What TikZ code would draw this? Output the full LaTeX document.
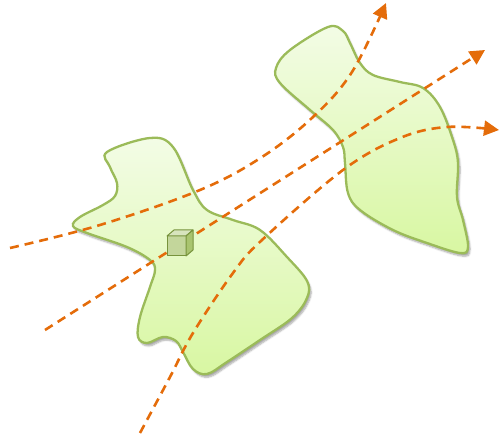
\documentclass[tikz,border=0pt]{standalone}
\usetikzlibrary{arrows.meta,shadows.blur}
\definecolor{blobedge}{HTML}{9BBB59}
\definecolor{blobtop}{HTML}{F3FCE6}
\definecolor{blobbot}{HTML}{D8F7A2}
\definecolor{ray}{HTML}{E46C0A}
\definecolor{cubefront}{HTML}{C3D69B}
\definecolor{cubetop}{HTML}{D7E4BD}
\definecolor{cubeside}{HTML}{A9C46F}
\definecolor{cubeedge}{HTML}{77933C}
\tikzset{
  blob/.style={draw=blobedge, line width=2.3pt, top color=blobtop, bottom color=blobbot,
    blur shadow={shadow xshift=2pt, shadow yshift=-3pt, shadow blur steps=6, shadow opacity=35}},
  raypath/.style={draw=ray, line width=2.6pt, dash pattern=on 9pt off 6pt},
  raytip/.style={-{Triangle[length=15pt,width=15pt]}},
  cubeface/.style={draw=cubeedge, line width=1pt, line join=round}
}
\begin{document}
\begin{tikzpicture}[x=1pt,y=-1pt]
\useasboundingbox (0,0) rectangle (499,441);
% left blob
\path[blob] plot[smooth cycle, tension=0.6] coordinates {
 (107,152) (150,138) (173,147) (193,190) (207,210) (233,220) (260,230)
 (287,257) (307,281) (307,298) (292,318) (260,340) (227,362) (207,374)
 (193,369) (183,352) (176,341) (163,337) (147,343) (138,337) (140,317)
 (150,287) (155,270) (150,260) (127,247) (87,233) (73,226) (80,217)
 (103,205) (115,196) (117,183) (110,167)};
% right blob
\path[blob] plot[smooth cycle, tension=0.6] coordinates {
 (328,27) (343,31) (350,43) (360,63) (373,75) (400,82) (423,88) (440,107)
 (453,140) (458,163) (457,197) (463,220) (468,247) (460,253) (427,243)
 (393,230) (360,210) (348,193) (345,163) (343,147) (333,130) (310,110)
 (280,83) (276,68) (290,50)};
% rays
\coordinate (a0) at (10,248);
\coordinate (a1) at (386,3);
\coordinate (b0) at (45,330);
\coordinate (b1) at (485,50);
\coordinate (c0) at (140,433);
\coordinate (c1) at (499,130);
\draw[raypath,raytip] plot[smooth, tension=0.6] coordinates {(a0) (100,225) (200,190) (262,157) (313,117) (352,72) (a1)};
\draw[raypath,raytip] (b0) -- (b1);
\draw[raypath,raytip] plot[smooth, tension=0.6] coordinates {(c0) (170,377) (193,333) (233,273) (262,240) (343,170) (400,138) (447,127) (c1)};
% cube
\coordinate (f1) at (167,236);
\coordinate (f2) at (186,236);
\coordinate (f3) at (186,256);
\coordinate (f4) at (167,256);
\coordinate (t1) at (174,230);
\coordinate (t2) at (193,230);
\coordinate (t3) at (193,250);
\path[cubeface, fill=cubefront] (f1) -- (f2) -- (f3) -- (f4) -- cycle;
\path[cubeface, fill=cubetop] (f1) -- (t1) -- (t2) -- (f2) -- cycle;
\path[cubeface, fill=cubeside] (f2) -- (t2) -- (t3) -- (f3) -- cycle;
\end{tikzpicture}
\end{document}
